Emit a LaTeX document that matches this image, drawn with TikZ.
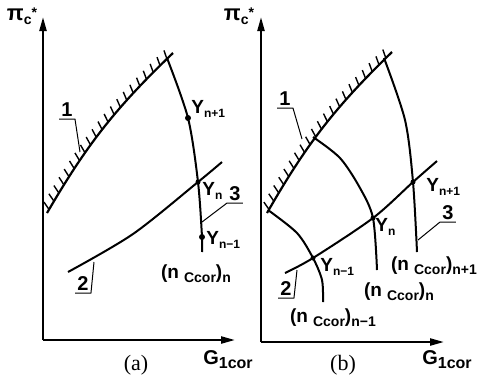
\documentclass[tikz,border=0pt]{standalone}
\usepackage{fontspec}
\setmainfont{Liberation Sans}
\newfontfamily\capfont{Liberation Serif}
\usetikzlibrary{arrows.meta,decorations.markings}

\newcommand{\lowsub}[2][6]{\raisebox{-2pt}{\fontsize{#1}{#1}\selectfont #2}}
\newcommand{\ncor}[1]{(n\hspace{2.5pt}\lowsub[7]{Ccor})\lowsub[7]{#1}}
\newcommand{\pilabel}{{\fontsize{11}{12}\selectfont π}\lowsub[7]{c}\raisebox{1.5pt}{\fontsize{7}{7}\selectfont *}}
\newcommand{\glabel}{G\lowsub[8]{1cor}}

\tikzset{
  axis/.style={line width=1.1pt,-{Triangle[width=3.5pt,length=7pt]}},
  curve/.style={line width=1pt},
  lead/.style={line width=0.5pt},
  surge/.style={line width=1.1pt,postaction={decorate},
    decoration={markings,mark=between positions 0.02 and 0.99 step 4.8pt with {\draw[line width=0.7pt] (0,0) -- (65:4.5pt);}}},
  lab/.style={font=\bfseries\fontsize{9.5}{11}\selectfont,inner sep=0pt},
  num/.style={font=\bfseries\fontsize{10}{12}\selectfont,inner xsep=1pt,inner ysep=1pt,anchor=south},
  ydot/.style={circle,fill=black,inner sep=0pt,minimum size=3pt}
}

\begin{document}
\begin{tikzpicture}[x=0.5pt,y=-0.5pt]
\useasboundingbox (0,0) rectangle (486,377);

% (a)
\coordinate (Oa) at (43,340);
\coordinate (Va) at (43,17);
\coordinate (Ha) at (235,340);
\draw[axis] (Oa) -- (Va);
\draw[axis] (Oa) -- (Ha);
\node[lab] (Pa) at (22,16) {\pilabel};
\node[lab,font=\bfseries\fontsize{10}{12}\selectfont] (Ga) at (228,360) {\glabel};
\node[inner sep=0pt,font=\capfont\fontsize{11}{13}\selectfont] (capa) at (136,365) {(a)};

\coordinate (Sa1) at (47,213);
\coordinate (Sa2) at (173,53);
\draw[surge] (Sa1) to[bend left=8] (Sa2);

\coordinate (Ta) at (167,58);
\coordinate (A1) at (188,118);
\coordinate (A2) at (198,182);
\coordinate (A3) at (202,237);
\coordinate (Ea) at (202,252);
\draw[curve] plot[smooth] coordinates {(Ta) (A1) (A2) (A3) (Ea)};
\draw[curve] plot[smooth] coordinates {(68,272) (133,234) (A2) (222,162)};
\node[ydot] at (A1) {};
\node[ydot,minimum size=2.5pt] at (A2) {};
\node[ydot] at (A3) {};

\node[lab,anchor=west] (ya1) at (191,109) {Y\lowsub{n+1}};
\node[lab,anchor=west] (ya2) at (202,191) {Y\lowsub{n}};
\node[lab,anchor=west] (ya3) at (206,240) {Y\lowsub{n−1}};
\node[lab] (na) at (196,274) {\ncor{n}};

\node[num] (n1a) at (67,119) {1};
\draw[lead] (n1a.south west) -- (n1a.south east) -- (80,152);
\node[num] (n2a) at (83,293) {2};
\draw[lead] (n2a.south west) -- (n2a.south east) -- (94,262);
\node[num] (n3a) at (235,203) {3};
\draw[lead] (n3a.south east) -- (n3a.south west) -- (202,222);

% (b)
\coordinate (Ob) at (261,342);
\coordinate (Vb) at (261,17);
\coordinate (Hb) at (444,342);
\draw[axis] (Ob) -- (Vb);
\draw[axis] (Ob) -- (Hb);
\node[lab] (Pb) at (239,16) {\pilabel};
\node[lab,font=\bfseries\fontsize{10}{12}\selectfont] (Gb) at (447,360) {\glabel};
\node[inner sep=0pt,font=\capfont\fontsize{11}{13}\selectfont] (capb) at (343,365) {(b)};

\coordinate (Sb1) at (267,213);
\coordinate (Sb2) at (392,52);
\draw[surge] (Sb1) to[bend left=8] (Sb2);

\coordinate (B1) at (413,182);
\coordinate (B2) at (373,218);
\coordinate (B3) at (313,258);
\draw[curve] plot[smooth] coordinates {(384,58) (405,120) (B1) (417,252)};
\draw[curve] plot[smooth] coordinates {(313,137) (340,158) (360,188) (B2) (377,270)};
\draw[curve] plot[smooth] coordinates {(268,210) (297,233) (B3) (322,280) (323,302)};
\draw[curve] plot[smooth] coordinates {(285,273) (B3) (B2) (B1) (437,161)};
\node[ydot,minimum size=2.5pt] at (B1) {};
\node[ydot,minimum size=2.5pt] at (B2) {};
\node[ydot,minimum size=2.5pt] at (B3) {};

\node[lab,anchor=west] (yb1) at (426,187) {Y\lowsub{n+1}};
\node[lab,anchor=west] (yb2) at (375,227) {Y\lowsub{n}};
\node[lab,anchor=west] (yb3) at (320,267) {Y\lowsub{n−1}};
\node[lab] (nb1) at (434,266) {\ncor{n+1}};
\node[lab] (nb2) at (399,292) {\ncor{n}};
\node[lab] (nb3) at (333,318) {\ncor{n−1}};

\node[num] (n1b) at (285,108) {1};
\draw[lead] (n1b.south west) -- (n1b.south east) -- (302,139);
\node[num] (n2b) at (286,298) {2};
\draw[lead] (n2b.south west) -- (n2b.south east) -- (297,270);
\node[num] (n3b) at (448,222) {3};
\draw[lead] (n3b.south east) -- (n3b.south west) -- (418,240);
\end{tikzpicture}
\end{document}
